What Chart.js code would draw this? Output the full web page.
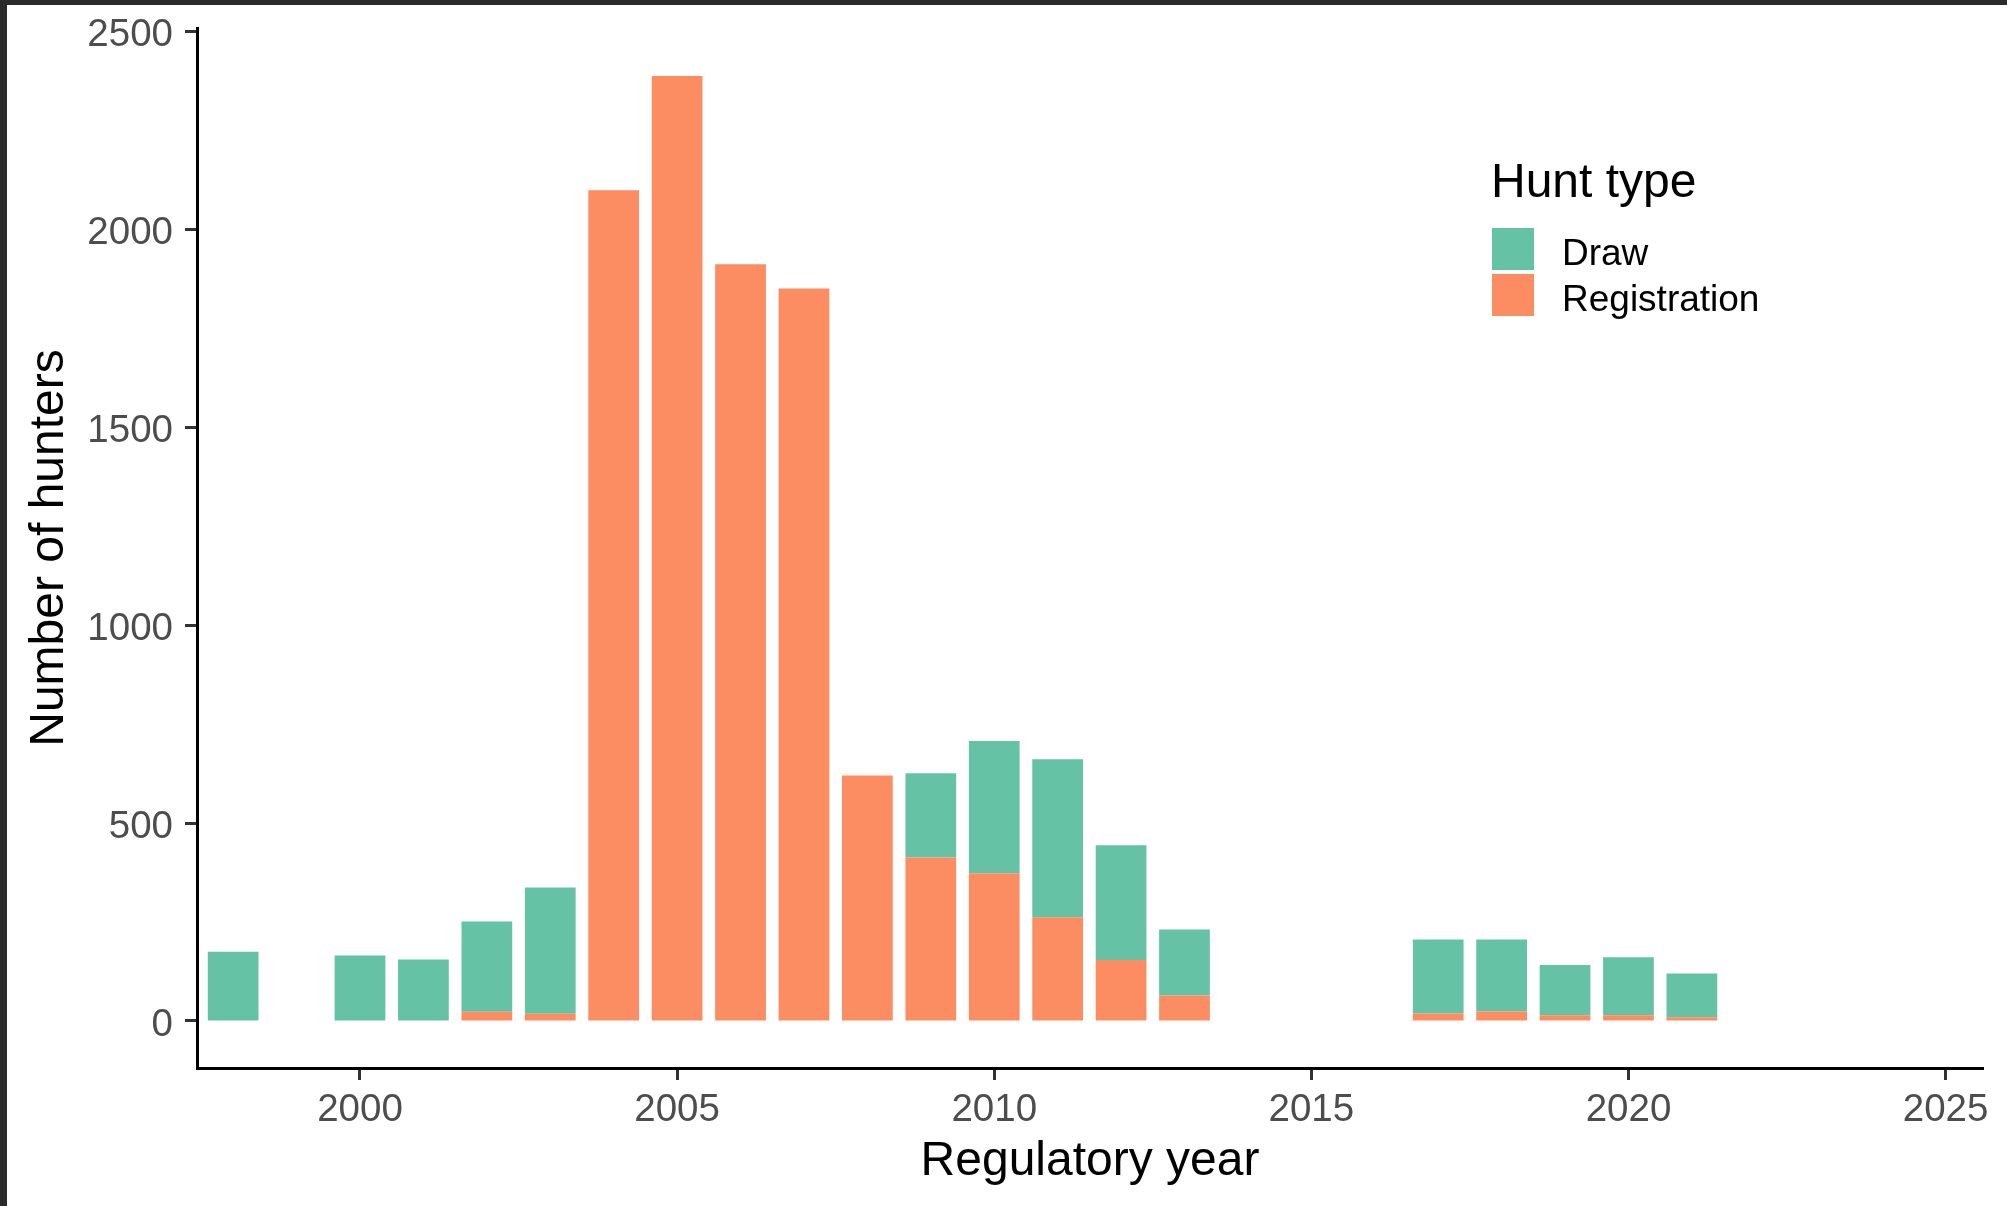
<!DOCTYPE html>
<html>
<head>
<meta charset="utf-8">
<script src="https://cdn.jsdelivr.net/npm/chart.js@4.4.1/dist/chart.umd.min.js"></script>
<style>
  html, body { margin: 0; padding: 0; width: 2007px; height: 1206px; overflow: hidden; background: #2b2b2b; }
  #panel { position: absolute; left: 7px; top: 5px; width: 2000px; height: 1201px; background: #ffffff; }
  #wrap { position: absolute; left: 0; top: 0; width: 2007px; height: 1206px; }
  .leg { position: absolute; font-family: "Liberation Sans", Arial, sans-serif; line-height: 1; white-space: nowrap; color: #000; }
  .sw { position: absolute; width: 42px; height: 42px; }
</style>
</head>
<body>
<div id="panel"></div>
<div id="wrap"><canvas id="c" width="2007" height="1206"></canvas></div>
<div id="legend"></div>
<script>
// ---- Data ----
const years = [1998, 2000, 2001, 2002, 2003, 2004, 2005, 2006, 2007, 2008, 2009, 2010, 2011, 2012, 2013, 2017, 2018, 2019, 2020, 2021];
const registrationValues = [0, 0, 0, 23, 18, 2099, 2388, 1912, 1851, 620, 413, 373, 262, 154, 64, 19, 24, 14, 14, 9];
const drawValues = [175, 165, 155, 228, 319, 0, 0, 0, 0, 0, 213, 334, 399, 290, 167, 187, 182, 127, 147, 111];
const yTickValues = [0, 500, 1000, 1500, 2000, 2500];
const xTickValues = [2000, 2005, 2010, 2015, 2020, 2025];
const seriesNames = ['Draw', 'Registration'];
const seriesColors = ['#66C2A5', '#FC8D62'];
const legendTitle = 'Hunt type';
const xTitle = 'Regulatory year';
const yTitle = 'Number of hunters';

const FONT = '"Liberation Sans", Arial, sans-serif';

const toPoints = vals => years.map((yr, i) => ({ x: yr, y: vals[i] }));

new Chart(document.getElementById('c'), {
  type: 'bar',
  data: {
    datasets: [
      { label: seriesNames[1], data: toPoints(registrationValues), backgroundColor: seriesColors[1] },
      { label: seriesNames[0], data: toPoints(drawValues), backgroundColor: seriesColors[0] }
    ]
  },
  options: {
    responsive: false,
    animation: false,
    devicePixelRatio: 1,
    layout: { padding: { left: 0, right: 24, top: 28, bottom: 0 } },
    plugins: { legend: { display: false }, tooltip: { enabled: false } },
    datasets: { bar: { categoryPercentage: 1, barPercentage: 0.8, borderWidth: 0 } },
    scales: {
      x: {
        type: 'linear',
        stacked: true,
        min: 1997.43,
        max: 2025.59,
        offset: false,
        grid: { display: true, offset: false, drawOnChartArea: false, drawTicks: true, tickLength: 12, tickWidth: 3, tickColor: '#333333', color: '#333333' },
        border: { display: true, color: '#000000', width: 3 },
        ticks: { font: { family: FONT, size: 38.5 }, color: '#4D4D4D', padding: 7, maxRotation: 0, autoSkip: false, callback: v => String(v) },
        afterBuildTicks: s => { s.ticks = xTickValues.map(v => ({ value: v })); },
        afterFit: s => { s.height = 138; },
        title: { display: true, text: xTitle, color: '#000000', font: { family: FONT, size: 48 }, padding: { top: 0, bottom: 15 } }
      },
      y: {
        stacked: true,
        min: -119,
        max: 2509,
        grid: { display: true, drawOnChartArea: false, drawTicks: true, tickLength: 12, tickWidth: 3, tickColor: '#333333', color: '#333333' },
        border: { display: true, color: '#000000', width: 3 },
        ticks: { font: { family: FONT, size: 38.5 }, color: '#4D4D4D', padding: 12, labelOffset: 4, autoSkip: false, callback: v => String(v) },
        afterBuildTicks: s => { s.ticks = yTickValues.map(v => ({ value: v })); },
        afterFit: s => { s.width = 197; s.paddingTop = 0; s.paddingBottom = 0; },
        title: { display: true, text: yTitle, color: '#000000', font: { family: FONT, size: 48 }, padding: { top: 21, bottom: 0 } }
      }
    }
  }
});

// ---- Legend (HTML text) ----
const lg = document.getElementById('legend');
function addText(txt, left, top, size) {
  const d = document.createElement('div');
  d.className = 'leg';
  d.style.left = left + 'px';
  d.style.top = top + 'px';
  d.style.fontSize = size + 'px';
  d.textContent = txt;
  lg.appendChild(d);
}
addText(legendTitle, 1491, 157, 48);
const swTops = [228, 274];
const txtTops = [234, 280];
seriesNames.forEach((name, i) => {
  const s = document.createElement('div');
  s.className = 'sw';
  s.style.left = '1492px';
  s.style.top = swTops[i] + 'px';
  s.style.background = seriesColors[i];
  lg.appendChild(s);
  addText(name, 1562, txtTops[i], 37);
});
</script>
</body>
</html>
